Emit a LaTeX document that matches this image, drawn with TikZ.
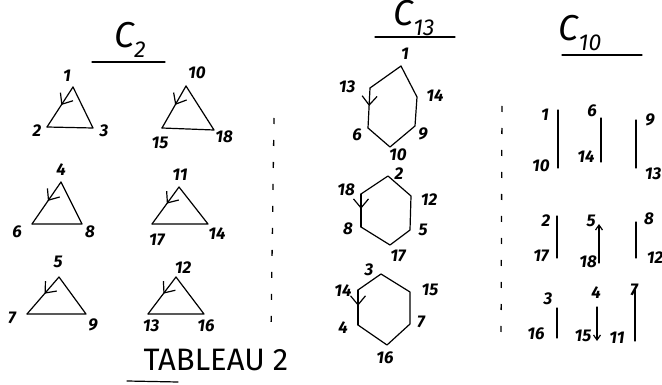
\documentclass[tikz,border=0pt]{standalone}
\usepackage{fontspec}
\setmainfont{Fira Sans}
\usetikzlibrary{arrows.meta,decorations.markings}
\newcommand{\numfont}{\fontsize{17}{18}\selectfont\bfseries\itshape}
\newcommand{\titlefont}{\fontsize{36}{38}\selectfont\itshape}
\newcommand{\subfont}{\fontsize{23}{23}\selectfont\itshape}
\newcommand{\capfont}{\fontsize{31}{33}\selectfont}
\tikzset{
  edge/.style={line width=1.2pt, line cap=round, line join=round},
  num/.style={font=\numfont, inner sep=0pt},
  midarrow/.style={postaction={decorate},
    decoration={markings, mark=at position 0.45 with {\arrow[line width=1.2pt]{Straight Barb[length=9pt,width=15pt]}}}},
  endbarb/.style={-{Straight Barb[length=5pt,width=7pt]}},
  gapline/.style={line width=1.3pt, dash pattern=on 6pt off 16pt},
}
% one triangle of C_2: name, top, left, right
\newcommand{\cyctri}[7]{%
  \coordinate (#1t) at (#2,#3);
  \coordinate (#1l) at (#4,#5);
  \coordinate (#1r) at (#6,#7);
  \draw[edge, midarrow] (#1t) -- (#1l);
  \draw[edge] (#1l) -- (#1r) -- (#1t);
}
\begin{document}
\begin{tikzpicture}[x=1pt,y=-1pt]
  \useasboundingbox (0,0) rectangle (662,385);
  \fill[white] (0,0) rectangle (662,385);

  % titles
  \node[inner sep=0pt] (ttwo) at (130,40) {\titlefont C\raisebox{-0.55ex}{\subfont 2}};
  \draw[edge] (92,62) -- (165,62);
  \node[inner sep=0pt] (tthirteen) at (414,18) {\titlefont C\raisebox{-0.55ex}{\subfont 13}};
  \draw[edge] (375,37) -- (455,37);
  \node[inner sep=0pt] (tten) at (580,33) {\titlefont C\raisebox{-0.55ex}{\subfont 10}};
  \draw[edge] (562,55) -- (642,55);

  % C_2: six triangles
  \cyctri{ta}{73}{87}{47}{127}{93}{128}
  \node[num] (la1) at (67,76) {1};
  \node[num] (la2) at (37,131) {2};
  \node[num] (la3) at (104,131) {3};

  \cyctri{tb}{186}{86}{162}{128}{214}{130}
  \node[num] (lb1) at (197,73) {10};
  \node[num] (lb2) at (160,143) {15};
  \node[num] (lb3) at (224,137) {18};

  \cyctri{tc}{61}{182}{32}{224}{82}{224}
  \node[num] (lc1) at (61,170) {4};
  \node[num] (lc2) at (17,232) {6};
  \node[num] (lc3) at (90,232) {8};

  \cyctri{td}{179}{187}{152}{224}{208}{224}
  \node[num] (ld1) at (180,175) {11};
  \node[num] (ld2) at (157,240) {17};
  \node[num] (ld3) at (217,234) {14};

  \cyctri{te}{59}{277}{27}{314}{86}{314}
  \node[num] (le1) at (58,262) {5};
  \node[num] (le2) at (12,318) {7};
  \node[num] (le3) at (93,325) {9};

  \cyctri{tf}{176}{277}{148}{314}{204}{314}
  \node[num] (lf1) at (183,268) {12};
  \node[num] (lf2) at (151,326) {13};
  \node[num] (lf3) at (206,326) {16};

  \node[font=\capfont, inner sep=0pt] (tab) at (216,360) {TABLEAU 2};
  \draw[edge] (127,381) -- (178,382);

  % separators
  \draw[gapline] (274,118) -- (271,332);
  \draw[gapline] (502,106) -- (501,342);

  % C_13: three hexagons
  \coordinate (ha1) at (401,66);
  \coordinate (ha14) at (417,97);
  \coordinate (ha9) at (415,126);
  \coordinate (ha10) at (390,147);
  \coordinate (ha6) at (368,128);
  \coordinate (ha13) at (370,88);
  \draw[edge] (ha13) -- (ha1) -- (ha14) -- (ha9) -- (ha10) -- (ha6);
  \draw[edge, midarrow] (ha13) -- (ha6);
  \node[num] (lh1) at (405,54) {1};
  \node[num] (lh13) at (347,87) {13};
  \node[num] (lh14) at (435,96) {14};
  \node[num] (lh9) at (423,134) {9};
  \node[num] (lh6) at (357,135) {6};
  \node[num] (lh10) at (398,155) {10};

  \coordinate (hb2) at (388,176);
  \coordinate (hb12) at (411,196);
  \coordinate (hb5) at (410,230);
  \coordinate (hb17) at (390,245);
  \coordinate (hb8) at (361,227);
  \coordinate (hb18) at (361,194);
  \draw[edge] (hb18) -- (hb2) -- (hb12) -- (hb5) -- (hb17) -- (hb8);
  \draw[edge, midarrow] (hb18) -- (hb8);
  \node[num] (lh2) at (399,174) {2};
  \node[num] (lh18) at (346,190) {18};
  \node[num] (lh12) at (429,200) {12};
  \node[num] (lh5) at (423,230) {5};
  \node[num] (lh17) at (398,256) {17};
  \node[num] (lh8) at (348,229) {8};

  \coordinate (hc3) at (381,274);
  \coordinate (hc15) at (410,292);
  \coordinate (hc7) at (410,324);
  \coordinate (hc16) at (387,345);
  \coordinate (hc4) at (358,325);
  \coordinate (hc14) at (358,290);
  \draw[edge] (hc14) -- (hc3) -- (hc15) -- (hc7) -- (hc16) -- (hc4);
  \draw[edge, midarrow] (hc14) -- (hc4);
  \node[num] (lh3) at (369,270) {3};
  \node[num] (lh14b) at (343,291) {14};
  \node[num] (lh15) at (430,290) {15};
  \node[num] (lh7) at (421,322) {7};
  \node[num] (lh4) at (343,328) {4};
  \node[num] (lh16) at (385,358) {16};

  % C_10: nine segments
  \coordinate (sa1) at (558,110); \coordinate (sa2) at (558,168);
  \draw[edge] (sa1) -- (sa2);
  \node[num] (ls1) at (545,115) {1};
  \node[num] (ls10) at (541,166) {10};
  \coordinate (sb1) at (601,118); \coordinate (sb2) at (601,162);
  \draw[edge] (sb1) -- (sb2);
  \node[num] (ls6) at (592,111) {6};
  \node[num] (ls14) at (586,157) {14};
  \coordinate (sc1) at (636,120); \coordinate (sc2) at (636,168);
  \draw[edge] (sc1) -- (sc2);
  \node[num] (ls9) at (650,120) {9};
  \node[num] (ls13) at (653,174) {13};

  \coordinate (sd1) at (557,216); \coordinate (sd2) at (557,258);
  \draw[edge] (sd1) -- (sd2);
  \node[num] (ls2) at (546,221) {2};
  \node[num] (ls17) at (541,256) {17};
  \coordinate (se1) at (599,224); \coordinate (se2) at (599,263);
  \draw[edge, endbarb] (se2) -- (se1);
  \node[num] (ls5) at (591,221) {5};
  \node[num] (ls18) at (588,262) {18};
  \coordinate (sf1) at (636,222); \coordinate (sf2) at (636,258);
  \draw[edge] (sf1) -- (sf2);
  \node[num] (ls8) at (649,219) {8};
  \node[num] (ls12) at (655,258) {12};

  \coordinate (sg1) at (557,308); \coordinate (sg2) at (557,338);
  \draw[edge] (sg1) -- (sg2);
  \node[num] (ls3) at (548,299) {3};
  \node[num] (ls16) at (536,334) {16};
  \coordinate (sh1) at (597,307); \coordinate (sh2) at (597,341);
  \draw[edge, endbarb] (sh1) -- (sh2);
  \node[num] (ls4) at (596,293) {4};
  \node[num] (ls15) at (583,336) {15};
  \coordinate (si1) at (635,290); \coordinate (si2) at (635,341);
  \draw[edge] (si1) -- (si2);
  \node[num] (ls7) at (634,290) {7};
  \node[num] (ls11) at (617,338) {11};
\end{tikzpicture}
\end{document}
